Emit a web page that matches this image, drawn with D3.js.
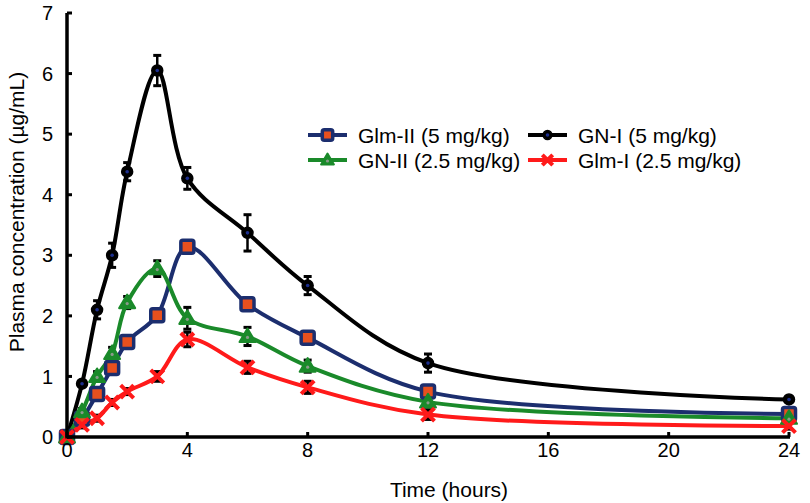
<!DOCTYPE html>
<html><head><meta charset="utf-8">
<script src="https://cdn.jsdelivr.net/npm/d3@7"></script>
<style>body{margin:0;background:#fff}svg{display:block;font-family:"Liberation Sans",Arial,sans-serif}</style>
</head><body><svg id="c" width="810" height="503"></svg>
<script>
const times = [0, 0.5, 1, 1.5, 2, 3, 4, 6, 8, 12, 24];
const gnI   = [0, 0.88, 2.1, 3.0, 4.38, 6.05, 4.27, 3.37, 2.5, 1.22, 0.62];
const gnIErr = [0, 0.05, 0.15, 0.2, 0.15, 0.25, 0.18, 0.3, 0.15, 0.15, 0.05];
const glmII = [0, 0.3, 0.71, 1.14, 1.57, 2.01, 3.14, 2.19, 1.64, 0.75, 0.38];
const glmIIErr = [0, 0.05, 0.1, 0.1, 0.08, 0.1, 0.1, 0.1, 0.1, 0.08, 0.05];
const gnII  = [0, 0.42, 1.0, 1.38, 2.22, 2.78, 1.96, 1.66, 1.17, 0.58, 0.31];
const gnIIErr = [0, 0.05, 0.08, 0.1, 0.1, 0.13, 0.18, 0.15, 0.1, 0.08, 0.05];
const glmI  = [0, 0.2, 0.31, 0.57, 0.75, 1.0, 1.61, 1.15, 0.82, 0.37, 0.18];
const glmIErr = [0, 0.05, 0.05, 0.05, 0.05, 0.08, 0.12, 0.1, 0.1, 0.08, 0.05];
const xTicks = [0, 4, 8, 12, 16, 20, 24];
const yTicks = [0, 1, 2, 3, 4, 5, 6, 7];

const series = [
  {name: "GN-I (5 mg/kg)", vals: gnI, err: gnIErr, color: "#000000", marker: "circle"},
  {name: "Glm-II (5 mg/kg)", vals: glmII, err: glmIIErr, color: "#1c2e6e", marker: "square"},
  {name: "GN-II (2.5 mg/kg)", vals: gnII, err: gnIIErr, color: "#1a8a2a", marker: "triangle"},
  {name: "Glm-I (2.5 mg/kg)", vals: glmI, err: glmIErr, color: "#ff1a1a", marker: "cross"}
];

const svg = d3.select("#c");
const x = d3.scaleLinear().domain([0, 24]).range([67, 789]);
const y = d3.scaleLinear().domain([0, 7]).range([437, 13]);

function drawMarker(g, type, cx, cy, color, small) {
  const k = small ? 0.8 : 1;
  if (type === "circle") {
    g.append("circle").attr("cx", cx).attr("cy", cy).attr("r", 5.5 * k).attr("fill", "#000").attr("stroke", "#000").attr("stroke-width", 1.5);
    g.append("circle").attr("cx", cx).attr("cy", cy).attr("r", 1.8).attr("fill", "#1c2e8e");
  } else if (type === "square") {
    const h = 6.5 * k;
    g.append("rect").attr("x", cx - h).attr("y", cy - h).attr("width", 2 * h).attr("height", 2 * h).attr("rx", 2)
      .attr("fill", "#e8501e").attr("stroke", color).attr("stroke-width", 3.5);
  } else if (type === "triangle") {
    const s = 8 * k;
    g.append("path").attr("d", `M${cx},${cy - s}L${cx + s},${cy + s * 0.7}L${cx - s},${cy + s * 0.7}Z`)
      .attr("fill", color).attr("stroke", color).attr("stroke-width", 2).attr("stroke-linejoin", "round");
    g.append("circle").attr("cx", cx).attr("cy", cy + 1).attr("r", 1.6).attr("fill", "#8a9a8a");
  } else if (type === "cross") {
    const s = 6.5 * k;
    g.append("path").attr("d", `M${cx - s},${cy - s}L${cx + s},${cy + s}M${cx + s},${cy - s}L${cx - s},${cy + s}`)
      .attr("stroke", color).attr("stroke-width", 4).attr("fill", "none");
  }
}

// error bars
const eb = svg.append("g");
series.forEach(s => {
  times.forEach((t, i) => {
    if (s.err[i] <= 0) return;
    const cx = x(t), y1 = y(s.vals[i] + s.err[i]), y2 = y(s.vals[i] - s.err[i]);
    eb.append("line").attr("x1", cx).attr("x2", cx).attr("y1", y1).attr("y2", y2).attr("stroke", "#000").attr("stroke-width", 2.5);
    eb.append("line").attr("x1", cx - 4).attr("x2", cx + 4).attr("y1", y1).attr("y2", y1).attr("stroke", "#000").attr("stroke-width", 3);
    eb.append("line").attr("x1", cx - 4).attr("x2", cx + 4).attr("y1", y2).attr("y2", y2).attr("stroke", "#000").attr("stroke-width", 3);
  });
});

// lines
const line = d3.line().x(d => x(d[0])).y(d => y(d[1])).curve(d3.curveCatmullRom.alpha(0.5));
series.forEach(s => {
  svg.append("path").datum(times.map((t, i) => [t, s.vals[i]]))
    .attr("d", line).attr("fill", "none").attr("stroke", s.color).attr("stroke-width", 4).attr("stroke-linejoin", "round");
});

// markers
series.forEach(s => {
  const g = svg.append("g");
  times.forEach((t, i) => drawMarker(g, s.marker, x(t), y(s.vals[i]), s.color));
});

// axes
const ax = svg.append("g");
ax.append("line").attr("x1", x(0)).attr("x2", x(24) + 1).attr("y1", y(0)).attr("y2", y(0)).attr("stroke", "#000").attr("stroke-width", 3.5);
ax.append("line").attr("x1", x(0)).attr("x2", x(0)).attr("y1", y(0) + 1.5).attr("y2", y(7)).attr("stroke", "#000").attr("stroke-width", 3.5);
yTicks.forEach(v => {
  ax.append("line").attr("x1", x(0)).attr("x2", x(0) + 5).attr("y1", y(v)).attr("y2", y(v)).attr("stroke", "#000").attr("stroke-width", 3);
  ax.append("text").attr("x", x(0) - 14).attr("y", y(v)).attr("dy", "0.36em").attr("text-anchor", "end")
    .attr("font-size", 20).text(v);
});
xTicks.forEach(v => {
  ax.append("line").attr("x1", x(v)).attr("x2", x(v)).attr("y1", y(0)).attr("y2", y(0) - 5).attr("stroke", "#000").attr("stroke-width", 3);
  ax.append("text").attr("x", x(v)).attr("y", 457).attr("text-anchor", "middle").attr("font-size", 20).text(v);
});
svg.append("text").attr("x", 449).attr("y", 497).attr("text-anchor", "middle").attr("font-size", 21).text("Time (hours)");
svg.append("text").attr("transform", "translate(24,212) rotate(-90)").attr("text-anchor", "middle").attr("font-size", 21).text("Plasma concentration (µg/mL)");

// legend
const legendOrder = [series[1], series[0], series[2], series[3]];
const legPos = [[308, 135], [528, 135], [308, 160], [528, 160]];
legendOrder.forEach((s, k) => {
  const [lx, ly] = legPos[k];
  const g = svg.append("g");
  g.append("line").attr("x1", lx).attr("x2", lx + 39).attr("y1", ly).attr("y2", ly).attr("stroke", s.color).attr("stroke-width", 4);
  drawMarker(g, s.marker, lx + 19.5, ly, s.color, true);
  g.append("text").attr("x", lx + 50).attr("y", ly).attr("dy", "0.36em").attr("font-size", 21).text(s.name);
});
</script></body></html>
